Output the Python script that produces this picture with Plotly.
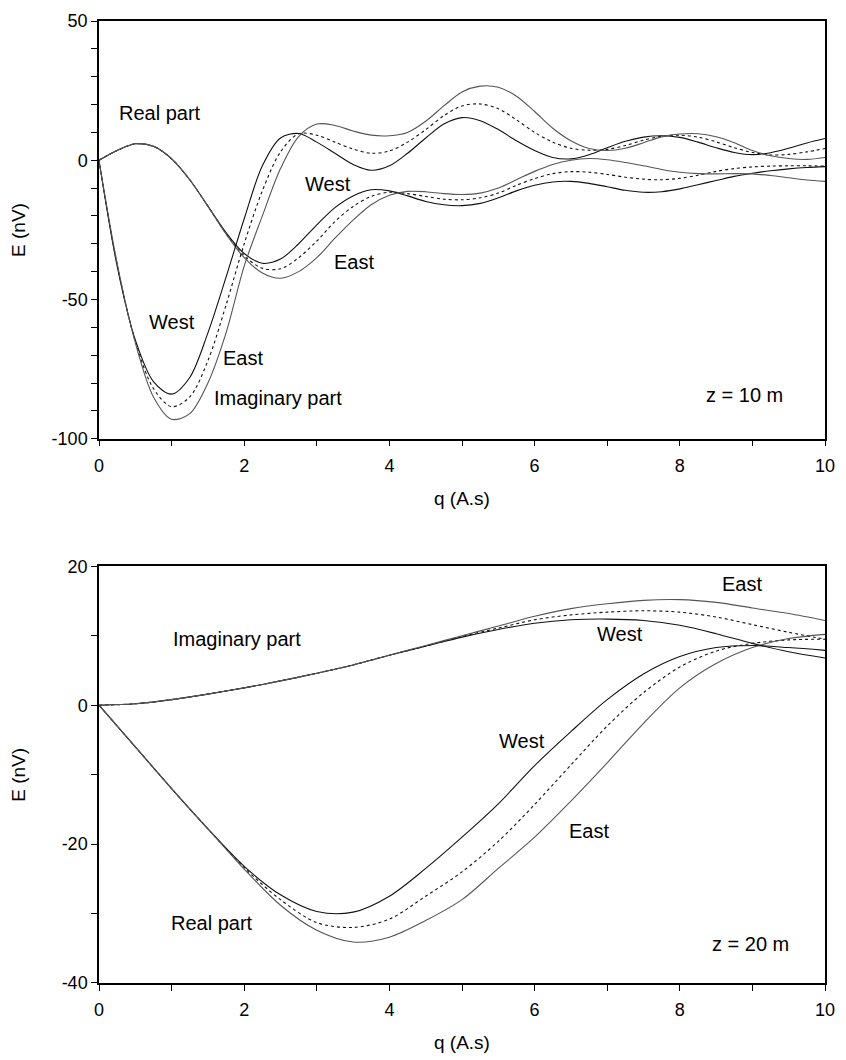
import plotly.graph_objects as go

# ---------------- data: z = 10 m ----------------
q_top = [i * 0.25 for i in range(41)]

imag_west_10 = [0, -38, -64.5, -79.5, -84, -78, -62, -42, -21, -2, 8, 9.6, 6.5, 2.5, -1.5, -3.6,
                -2, 2.5, 8, 13, 15.3, 14.2, 11, 7, 3.5, 1, 0.5, 2, 4.5, 6.8, 8.3, 8.8, 8.2, 6.5,
                4.5, 2.8, 2, 2.7, 4.3, 6.2, 7.8]
imag_mid_10 = [0, -37.5, -65, -82, -88.5, -85, -72, -52, -30, -11, 3, 9.5, 9, 6.5, 4, 2.5,
               3.3, 6.5, 11, 16, 19.5, 20.2, 18.5, 14.5, 10, 6.5, 4.3, 3.6, 3.9, 5.3, 7.2, 8.6,
               9, 8.3, 6.6, 4.5, 2.8, 1.9, 2.1, 3, 4.2]
imag_east_10 = [0, -37, -65.5, -85, -93, -91, -80, -62, -38, -20, -3, 8.5, 13, 12.5, 10.5, 9,
                8.8, 10, 14, 19.5, 24.5, 26.6, 26.2, 23, 17.5, 11.5, 7, 4.2, 3.5, 4.3, 6.3, 8.4,
                9.4, 9.5, 8.4, 6.3, 3.5, 1.6, 0.6, 0.3, 1]
real_west_10 = [0, 3.5, 5.9, 5, 0.5, -7, -16.5, -26, -33.5, -37, -35.5, -30, -23.2, -17, -12.8,
                -10.6, -11, -12.8, -14.8, -16, -16.3, -15.5, -13.5, -11, -9, -7.8, -7.6, -8.3,
                -9.5, -10.8, -11.5, -11.3, -10.3, -8.8, -7.3, -5.8, -4.7, -3.8, -3.1, -2.6, -2.3]
real_mid_10 = [0, 3.5, 5.9, 5, 0.5, -7, -16.5, -26.3, -34.3, -38.8, -39, -35, -29, -22, -16.6,
               -13, -11.5, -12, -13, -14, -14.2, -13.5, -11.8, -9, -6.6, -4.8, -4.1, -4.3, -5.1,
               -6.1, -6.8, -7, -6.5, -5.4, -4, -3, -2.4, -2.1, -2, -2, -2.1]
real_east_10 = [0, 3.5, 5.9, 5, 0.6, -7, -16.5, -26.5, -35, -40.5, -42.4, -40, -35, -28, -21.5,
                -16, -12.6, -11.2, -11.3, -12, -12.3, -11.8, -10, -7, -4, -1.5, 0, 0.6, 0.2,
                -0.8, -2, -3.3, -4.3, -4.8, -4.9, -4.8, -4.9, -5.5, -6.3, -7.1, -7.6]

# ---------------- data: z = 20 m ----------------
q_bot = [i * 0.5 for i in range(21)]

imag_west_20 = [0, 0.2, 0.8, 1.6, 2.5, 3.5, 4.6, 5.8, 7.2, 8.5, 9.8, 10.9, 11.8, 12.3, 12.4,
                12.2, 11.5, 10.3, 8.9, 7.7, 6.8]
imag_mid_20 = [0, 0.2, 0.8, 1.6, 2.5, 3.5, 4.6, 5.8, 7.2, 8.5, 9.9, 11.1, 12.3, 13, 13.4, 13.6,
               13.4, 12.7, 11.6, 10.5, 9.5]
imag_east_20 = [0, 0.2, 0.8, 1.6, 2.5, 3.5, 4.6, 5.8, 7.2, 8.6, 10, 11.4, 12.8, 13.9, 14.6,
                15.1, 15.2, 14.8, 14, 13.2, 12.2]
real_west_20 = [0, -6, -12, -17.8, -23.2, -27.3, -29.7, -29.8, -27.5, -23.5, -19, -14.2, -8.7,
                -3.8, 0.8, 4.5, 7, 8.3, 8.6, 8.3, 7.9]
real_mid_20 = [0, -6, -12, -17.8, -23.4, -28, -31.3, -32, -30.8, -27.5, -24, -19.6, -14.3,
               -8.6, -3, 1.8, 5.5, 7.8, 8.9, 9.4, 9.5]
real_east_20 = [0, -6, -12, -17.8, -23.6, -28.8, -32.4, -34.1, -33.4, -31, -28, -23.5, -19,
                -13.8, -8.3, -2.6, 2.5, 6, 8.3, 9.6, 10.2]

# ---------------- axes ticks ----------------
x_ticks = [0, 2, 4, 6, 8, 10]
x_tick_text = ["0", "2", "4", "6", "8", "10"]
y_ticks_top = [-100, -50, 0, 50]
y_tick_text_top = ["-100", "-50", "0", "50"]
y_ticks_bot = [-40, -20, 0, 20]
y_tick_text_bot = ["-40", "-20", "0", "20"]

FONT = "Liberation Sans, Arial, sans-serif"
styles = {
    "west": dict(color="#111111", width=1.1),
    "mid": dict(color="#111111", width=1.1, dash="3px,3px"),
    "east": dict(color="#555555", width=1.1),
}

fig = go.Figure()


def add_curve(q, v, style, xa, ya):
    fig.add_trace(go.Scatter(x=q, y=v, mode="lines",
                             line=dict(shape="spline", smoothing=0.9, **styles[style]),
                             xaxis=xa, yaxis=ya, showlegend=False, hoverinfo="skip"))


for v, s in [(real_west_10, "west"), (real_mid_10, "mid"), (real_east_10, "east"),
             (imag_west_10, "west"), (imag_mid_10, "mid"), (imag_east_10, "east")]:
    add_curve(q_top, v, s, "x", "y")
for v, s in [(real_west_20, "west"), (real_mid_20, "mid"), (real_east_20, "east"),
             (imag_west_20, "west"), (imag_mid_20, "mid"), (imag_east_20, "east")]:
    add_curve(q_bot, v, s, "x2", "y2")

axis_common = dict(showgrid=False, zeroline=False, showline=True, linecolor="black", linewidth=1.5,
                   mirror=True, ticks="outside", ticklen=6, tickwidth=1, tickcolor="black",
                   tickfont=dict(family=FONT, size=18, color="black"))

top_dom = [(983 - 437) / 965, 1.0]
bot_dom = [0.0, (983 - 565) / 965]

fig.update_layout(
    width=846, height=1060,
    margin=dict(l=99, r=11, t=18, b=77),
    paper_bgcolor="white", plot_bgcolor="white",
    xaxis=dict(range=[0, 10], domain=[0, 1], anchor="y", tickvals=x_ticks, ticktext=x_tick_text,
               minor=dict(ticks="outside", dtick=1, ticklen=6, tickcolor="black"),
               ticklabelstandoff=4, **axis_common),
    yaxis=dict(range=[-100, 50], domain=top_dom, anchor="x", tickvals=y_ticks_top,
               ticktext=y_tick_text_top,
               minor=dict(ticks="outside", dtick=10, ticklen=6, tickcolor="black"), **axis_common),
    xaxis2=dict(range=[0, 10], domain=[0, 1], anchor="y2", tickvals=x_ticks, ticktext=x_tick_text,
                minor=dict(ticks="outside", dtick=1, ticklen=6, tickcolor="black"),
                ticklabelstandoff=4, **axis_common),
    yaxis2=dict(range=[-40, 20], domain=bot_dom, anchor="x2", tickvals=y_ticks_bot,
                ticktext=y_tick_text_bot,
                minor=dict(ticks="outside", dtick=10, ticklen=6, tickcolor="black"), **axis_common),
)

label_font = dict(family=FONT, size=20, color="black")


def label(text, x, y, xa="x", ya="y"):
    fig.add_annotation(text=text, x=x, y=y, xref=xa, yref=ya, showarrow=False, font=label_font,
                       xanchor="center", yanchor="middle")


# z = 10 m panel labels
label("Real part", 0.84, 17.1)
label("West", 3.16, -8.7)
label("East", 3.51, -36.6)
label("West", 1.0, -58.1)
label("East", 1.99, -71.0)
label("Imaginary part", 2.47, -85.3)
label("z = 10 m", 8.89, -84.2)

# z = 20 m panel labels
label("Imaginary part", 1.9, 9.6, "x2", "y2")
label("East", 8.85, 17.4, "x2", "y2")
label("West", 7.18, 10.2, "x2", "y2")
label("West", 5.82, -5.2, "x2", "y2")
label("East", 6.75, -18.1, "x2", "y2")
label("Real part", 1.56, -31.4, "x2", "y2")
label("z = 20 m", 8.97, -34.4, "x2", "y2")

# axis titles
title_font = dict(family=FONT, size=19, color="black")
for txt, x, y, ang in [("q (A.s)", 0.5, (983 - 497) / 965, 0), ("q (A.s)", 0.5, (983 - 1043) / 965, 0),
                       ("E (nV)", (18 - 99) / 736, (983 - 227.5) / 965, -90),
                       ("E (nV)", (18 - 99) / 736, (983 - 774) / 965, -90)]:
    fig.add_annotation(text=txt, x=x, y=y, xref="paper", yref="paper", showarrow=False,
                       font=title_font, textangle=ang, xanchor="center", yanchor="middle")

fig.write_html("out.html")
